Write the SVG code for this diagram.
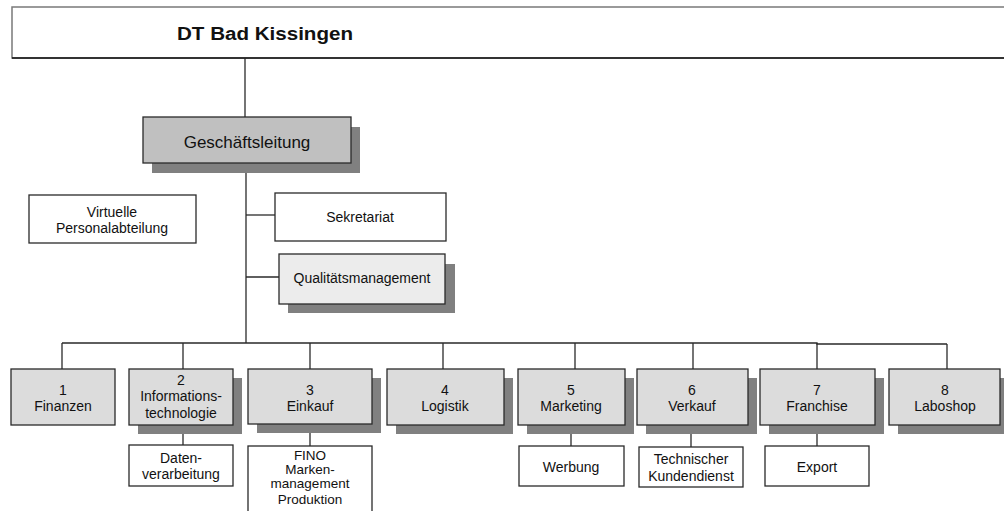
<svg xmlns="http://www.w3.org/2000/svg" width="1004" height="511" viewBox="0 0 1004 511">
  <style>
    text { font-family: "Liberation Sans", Arial, sans-serif; font-size: 14px; fill: #111; text-anchor: middle; }
    .box { stroke: #2a2a2a; stroke-width: 1.3; }
    .plain { fill: #ffffff; }
    .dept { fill: #dcdcdc; }
    .lead { fill: #c0c0c0; }
    .qm { fill: #ececec; }
    .shadow { fill: #808080; }
    .conn { fill: none; stroke: #2a2a2a; stroke-width: 1.3; }
    .tight { font-size: 13.5px; }
  </style>

  <rect width="1004" height="511" fill="#ffffff"/>

  <!-- connectors -->
  <g id="connectors">
    <line class="conn" x1="245" y1="58" x2="245" y2="117"/>
    <line class="conn" x1="246" y1="163" x2="246" y2="343"/>
    <line class="conn" x1="246" y1="215" x2="275" y2="215"/>
    <line class="conn" x1="246" y1="277" x2="279" y2="277"/>
    <path class="conn" d="M62,343 H817 V344 H947"/>
    <line class="conn" x1="62" y1="343" x2="62" y2="369"/>
    <line class="conn" x1="183" y1="343" x2="183" y2="369"/>
    <line class="conn" x1="310" y1="343" x2="310" y2="369"/>
    <line class="conn" x1="443" y1="343" x2="443" y2="369"/>
    <line class="conn" x1="575" y1="343" x2="575" y2="369"/>
    <line class="conn" x1="693" y1="343" x2="693" y2="369"/>
    <line class="conn" x1="817" y1="343" x2="817" y2="369"/>
    <line class="conn" x1="947" y1="344" x2="947" y2="369"/>
    <line class="conn" x1="183" y1="425" x2="183" y2="445"/>
    <line class="conn" x1="310" y1="425" x2="310" y2="446"/>
    <line class="conn" x1="571" y1="425" x2="571" y2="446"/>
    <line class="conn" x1="691" y1="425" x2="691" y2="447"/>
    <line class="conn" x1="817" y1="425" x2="817" y2="446"/>
  </g>

  <!-- top unit -->
  <g id="node-dt">
    <rect x="12" y="7" width="1000" height="51" fill="#ffffff" stroke="#7a7a7a" stroke-width="1.5"/>
    <line x1="12" y1="58" x2="1004" y2="58" stroke="#111" stroke-width="1.5"/>
    <text x="265" y="40" style="font-size:18px;font-weight:bold" textLength="176" lengthAdjust="spacingAndGlyphs">DT Bad Kissingen</text>
  </g>

  <g id="node-geschaeftsleitung">
    <rect class="shadow" x="152" y="127" width="208" height="46"/>
    <rect class="box lead" x="143" y="117" width="208" height="46"/>
    <text x="247" y="148" style="font-size:17px">Geschäftsleitung</text>
  </g>

  <g id="node-personal">
    <rect class="box plain" x="29" y="195" width="167" height="48"/>
    <text x="112" y="217">Virtuelle</text>
    <text x="112" y="233">Personalabteilung</text>
  </g>

  <g id="node-sekretariat">
    <rect class="box plain" x="275" y="193" width="171" height="48"/>
    <text x="360" y="222">Sekretariat</text>
  </g>

  <g id="node-qm">
    <rect class="shadow" x="288" y="264" width="167" height="49"/>
    <rect class="box qm" x="279" y="254" width="166" height="50"/>
    <text x="362" y="283">Qualitätsmanagement</text>
  </g>

  <!-- departments -->
  <g id="node-1">
    <rect class="box dept" x="11" y="369" width="104" height="56"/>
    <text x="63" y="395">1</text>
    <text x="63" y="411">Finanzen</text>
  </g>

  <g id="node-2">
    <rect class="shadow" x="138" y="378" width="104" height="56"/>
    <rect class="box dept" x="129" y="369" width="104" height="56"/>
    <text x="181" y="385">2</text>
    <text x="181" y="401">Informations-</text>
    <text x="181" y="418">technologie</text>
  </g>

  <g id="node-3">
    <rect class="shadow" x="257" y="378" width="124" height="55"/>
    <rect class="box dept" x="248" y="369" width="124" height="55"/>
    <text x="310" y="395">3</text>
    <text x="310" y="411">Einkauf</text>
  </g>

  <g id="node-4">
    <rect class="shadow" x="396" y="378" width="117" height="56"/>
    <rect class="box dept" x="387" y="369" width="117" height="56"/>
    <text x="445" y="395">4</text>
    <text x="445" y="411">Logistik</text>
  </g>

  <g id="node-5">
    <rect class="shadow" x="527" y="378" width="107" height="56"/>
    <rect class="box dept" x="518" y="369" width="107" height="56"/>
    <text x="571" y="395">5</text>
    <text x="571" y="411">Marketing</text>
  </g>

  <g id="node-6">
    <rect class="shadow" x="646" y="378" width="111" height="56"/>
    <rect class="box dept" x="637" y="369" width="111" height="56"/>
    <text x="692" y="395">6</text>
    <text x="692" y="411">Verkauf</text>
  </g>

  <g id="node-7">
    <rect class="shadow" x="769" y="378" width="115" height="56"/>
    <rect class="box dept" x="760" y="369" width="115" height="56"/>
    <text x="817" y="395">7</text>
    <text x="817" y="411">Franchise</text>
  </g>

  <g id="node-8">
    <rect class="shadow" x="898" y="378" width="111" height="56"/>
    <rect class="box dept" x="889" y="369" width="111" height="56"/>
    <text x="945" y="395">8</text>
    <text x="945" y="411">Laboshop</text>
  </g>

  <!-- sub units -->
  <g id="node-daten">
    <rect class="box plain" x="129" y="445" width="104" height="41"/>
    <text x="181" y="463">Daten-</text>
    <text x="181" y="479">verarbeitung</text>
  </g>

  <g id="node-fino">
    <rect class="box plain" x="248" y="446" width="124" height="70"/>
    <text class="tight" x="310" y="460">FINO</text>
    <text class="tight" x="310" y="474">Marken-</text>
    <text class="tight" x="310" y="488">management</text>
    <text class="tight" x="310" y="504">Produktion</text>
  </g>

  <g id="node-werbung">
    <rect class="box plain" x="519" y="446" width="105" height="40"/>
    <text x="571" y="472">Werbung</text>
  </g>

  <g id="node-kundendienst">
    <rect class="box plain" x="639" y="447" width="104" height="40"/>
    <text x="691" y="464">Technischer</text>
    <text x="691" y="481">Kundendienst</text>
  </g>

  <g id="node-export">
    <rect class="box plain" x="765" y="446" width="104" height="40"/>
    <text x="817" y="472">Export</text>
  </g>
</svg>
